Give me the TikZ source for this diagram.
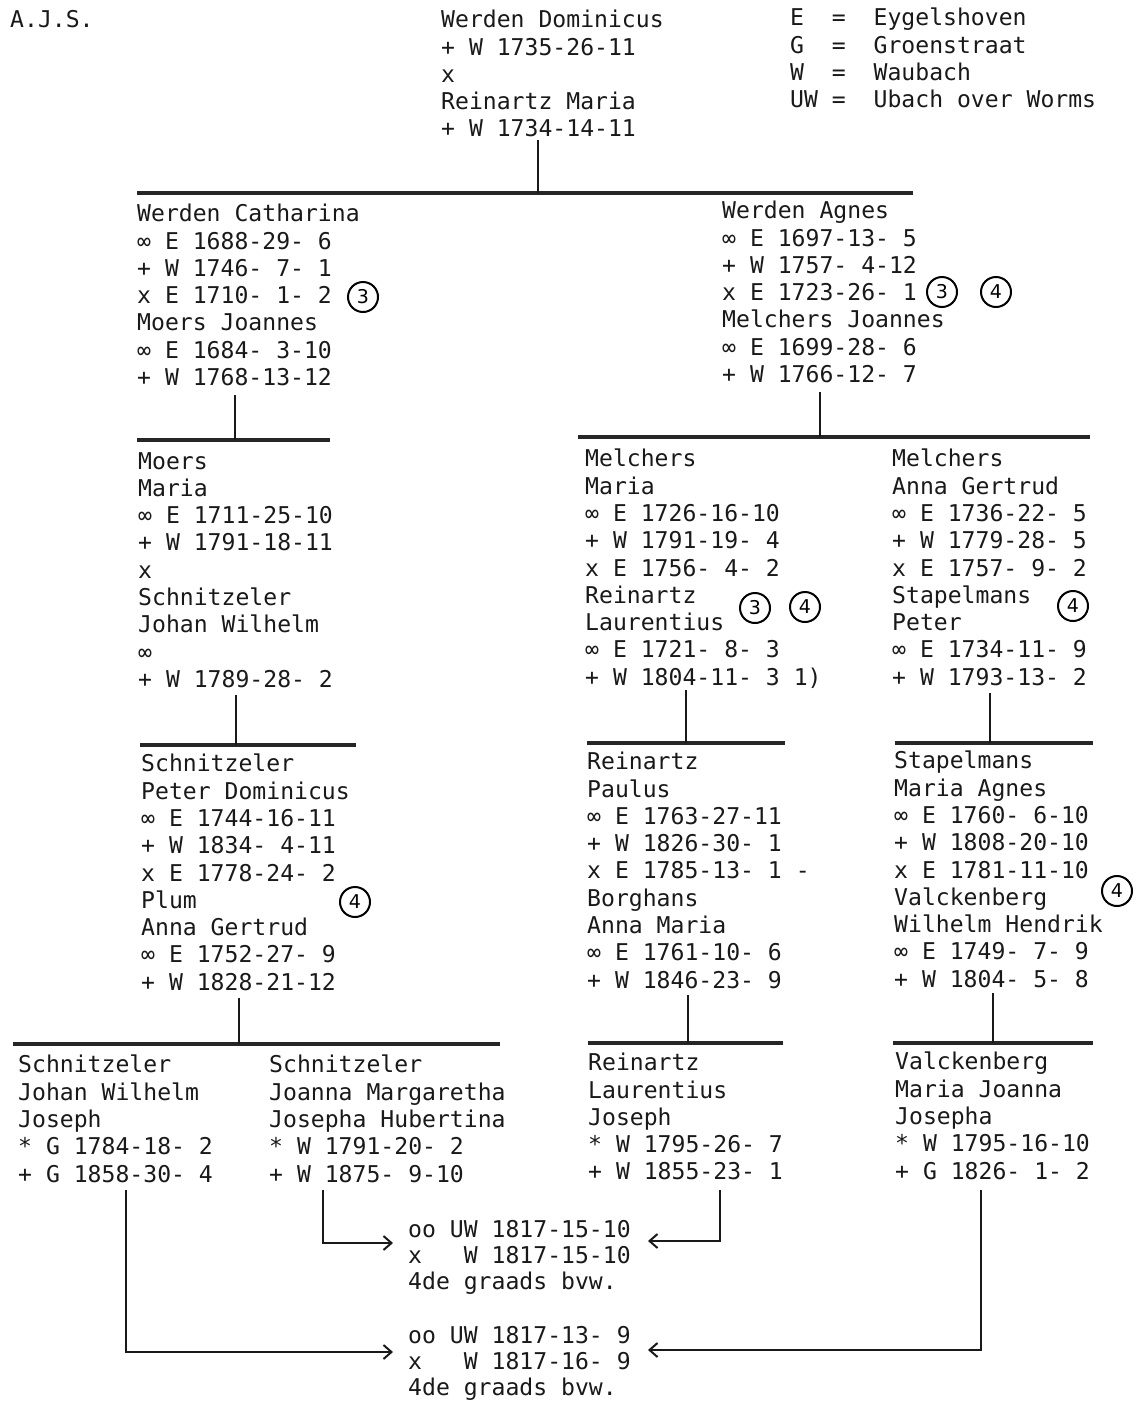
\documentclass[tikz,border=0pt]{standalone}
\usepackage{fontspec}
\newfontfamily\mono{DejaVu Sans Mono}
\newfontfamily\circfont{DejaVu Sans}
\usetikzlibrary{arrows.meta}
\begin{document}
\begin{tikzpicture}[x=1pt,y=-1pt,
  blk/.style={anchor=north west,inner sep=0pt,align=left,font={\mono\fontsize{23.1}{27.3}\selectfont},text=black!90},
  mblk/.style={blk,font={\mono\fontsize{23.1}{26.2}\selectfont}},
  circ/.style={circle,draw,line width=2pt,minimum size=30pt,inner sep=0pt,font={\circfont\fontsize{19}{19}\selectfont}},
  bar/.style={line width=3.2pt,black!85},
  stem/.style={line width=2.6pt,black!90},
  arr/.style={line width=2.2pt,black!90,-{Straight Barb[length=8pt,width=14pt,line width=2pt]}}]
\useasboundingbox (0,0) rectangle (1141,1401);
\def\om{∞}
% texts
\node[blk] (ajs) at (10,10) {A.J.S.};
\node[blk] (top) at (441,10) {Werden Dominicus\\+ W 1735-26-11\\x\\Reinartz Maria\\+ W 1734-14-11};
\node[blk] (leg) at (790,8) {E\ \ =\ \ Eygelshoven\\G\ \ =\ \ Groenstraat\\W\ \ =\ \ Waubach\\UW =\ \ Ubach over Worms};
\node[blk] (wc) at (137,204) {Werden Catharina\\\om\ E 1688-29-\ 6\\+ W 1746-\ 7-\ 1\\x E 1710-\ 1-\ 2\\Moers Joannes\\\om\ E 1684-\ 3-10\\+ W 1768-13-12};
\node[blk] (wa) at (722,201) {Werden Agnes\\\om\ E 1697-13-\ 5\\+ W 1757-\ 4-12\\x E 1723-26-\ 1\\Melchers Joannes\\\om\ E 1699-28-\ 6\\+ W 1766-12-\ 7};
\node[blk] (mm) at (138,452) {Moers\\Maria\\\om\ E 1711-25-10\\+ W 1791-18-11\\x\\Schnitzeler\\Johan Wilhelm\\\om\\+ W 1789-28-\ 2};
\node[blk] (mem) at (585,449) {Melchers\\Maria\\\om\ E 1726-16-10\\+ W 1791-19-\ 4\\x E 1756-\ 4-\ 2\\Reinartz\\Laurentius\\\om\ E 1721-\ 8-\ 3\\+ W 1804-11-\ 3 1)};
\node[blk] (mea) at (892,449) {Melchers\\Anna Gertrud\\\om\ E 1736-22-\ 5\\+ W 1779-28-\ 5\\x E 1757-\ 9-\ 2\\Stapelmans\\Peter\\\om\ E 1734-11-\ 9\\+ W 1793-13-\ 2};
\node[blk] (sp) at (141,754) {Schnitzeler\\Peter Dominicus\\\om\ E 1744-16-11\\+ W 1834-\ 4-11\\x E 1778-24-\ 2\\Plum\\Anna Gertrud\\\om\ E 1752-27-\ 9\\+ W 1828-21-12};
\node[blk] (rp) at (587,752) {Reinartz\\Paulus\\\om\ E 1763-27-11\\+ W 1826-30-\ 1\\x E 1785-13-\ 1 -\\Borghans\\Anna Maria\\\om\ E 1761-10-\ 6\\+ W 1846-23-\ 9};
\node[blk] (sm) at (894,751) {Stapelmans\\Maria Agnes\\\om\ E 1760-\ 6-10\\+ W 1808-20-10\\x E 1781-11-10\\Valckenberg\\Wilhelm Hendrik\\\om\ E 1749-\ 7-\ 9\\+ W 1804-\ 5-\ 8};
\node[blk] (b1) at (18,1055) {Schnitzeler\\Johan Wilhelm\\Joseph\\* G 1784-18-\ 2\\+ G 1858-30-\ 4};
\node[blk] (b2) at (269,1055) {Schnitzeler\\Joanna Margaretha\\Josepha Hubertina\\* W 1791-20-\ 2\\+ W 1875-\ 9-10};
\node[blk] (b3) at (588,1053) {Reinartz\\Laurentius\\Joseph\\* W 1795-26-\ 7\\+ W 1855-23-\ 1};
\node[blk] (b4) at (895,1052) {Valckenberg\\Maria Joanna\\Josepha\\* W 1795-16-10\\+ G 1826-\ 1-\ 2};
\node[mblk] (m1) at (408,1220) {oo UW 1817-15-10\\x\ \ \ W 1817-15-10\\4de graads bvw.};
\node[mblk] (m2) at (408,1326) {oo UW 1817-13-\ 9\\x\ \ \ W 1817-16-\ 9\\4de graads bvw.};
% circled numbers
\node[circ] (c1) at (363,297) {3};
\node[circ] (c2) at (942,292) {3};
\node[circ] (c3) at (996,292) {4};
\node[circ] (c4) at (755,608) {3};
\node[circ] (c5) at (805,607) {4};
\node[circ] (c6) at (1073,606) {4};
\node[circ] (c7) at (355,902) {4};
\node[circ] (c8) at (1117,891) {4};
% bars and stems
\coordinate (s0) at (538,140); \coordinate (j0) at (538,193);
\coordinate (b0L) at (137,193); \coordinate (b0R) at (913,193);
\draw[bar] (b0L) -- (b0R); \draw[stem] (s0) -- (j0);
\coordinate (s1) at (235,395); \coordinate (j1) at (235,440);
\coordinate (b1L) at (137,440); \coordinate (b1R) at (330,440);
\draw[bar] (b1L) -- (b1R); \draw[stem] (s1) -- (j1);
\coordinate (s2) at (820,392); \coordinate (j2) at (820,437);
\coordinate (b2L) at (578,437); \coordinate (b2R) at (1090,437);
\draw[bar] (b2L) -- (b2R); \draw[stem] (s2) -- (j2);
\coordinate (s3) at (236,695); \coordinate (j3) at (236,745);
\coordinate (b3L) at (140,745); \coordinate (b3R) at (356,745);
\draw[bar] (b3L) -- (b3R); \draw[stem] (s3) -- (j3);
\coordinate (s4) at (686,690); \coordinate (j4) at (686,743);
\coordinate (b4L) at (587,743); \coordinate (b4R) at (785,743);
\draw[bar] (b4L) -- (b4R); \draw[stem] (s4) -- (j4);
\coordinate (s5) at (990,693); \coordinate (j5) at (990,743);
\coordinate (b5L) at (895,743); \coordinate (b5R) at (1093,743);
\draw[bar] (b5L) -- (b5R); \draw[stem] (s5) -- (j5);
\coordinate (s6) at (239,998); \coordinate (j6) at (239,1044);
\coordinate (b6L) at (13,1044); \coordinate (b6R) at (500,1044);
\draw[bar] (b6L) -- (b6R); \draw[stem] (s6) -- (j6);
\coordinate (s7) at (688,995); \coordinate (j7) at (688,1043);
\coordinate (b7L) at (588,1043); \coordinate (b7R) at (783,1043);
\draw[bar] (b7L) -- (b7R); \draw[stem] (s7) -- (j7);
\coordinate (s8) at (993,993); \coordinate (j8) at (993,1043);
\coordinate (b8L) at (893,1043); \coordinate (b8R) at (1093,1043);
\draw[bar] (b8L) -- (b8R); \draw[stem] (s8) -- (j8);
% marriage arrows
\coordinate (a1s) at (323,1190); \coordinate (a1e) at (393,1243);
\coordinate (a2s) at (720,1190); \coordinate (a2e) at (648,1241);
\coordinate (a3s) at (126,1190); \coordinate (a3e) at (393,1352);
\coordinate (a4s) at (981,1190); \coordinate (a4e) at (648,1350);
\draw[arr] (a1s) |- (a1e);
\draw[arr] (a2s) |- (a2e);
\draw[arr] (a3s) |- (a3e);
\draw[arr] (a4s) |- (a4e);
\end{tikzpicture}
\end{document}
